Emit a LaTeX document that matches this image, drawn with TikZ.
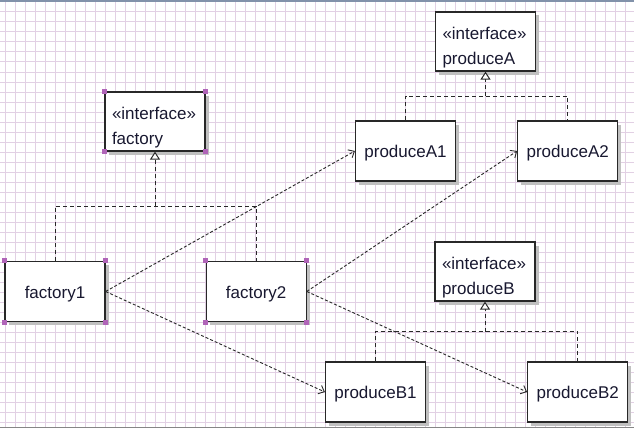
\documentclass[tikz,border=0pt]{standalone}
\usepackage{fontspec}
\setmainfont{Liberation Sans}
\usetikzlibrary{arrows.meta, positioning, calc, shadows}
\definecolor{gridpink}{RGB}{226,208,228}
\definecolor{handle}{RGB}{176,100,184}
\definecolor{shade}{RGB}{192,192,192}
\definecolor{boxline}{RGB}{40,40,40}
\definecolor{txt}{RGB}{24,24,48}
\definecolor{topbar}{RGB}{130,146,170}

\begin{document}
\begin{tikzpicture}[
  x=1pt, y=-1pt,
  cls/.style={rectangle, draw=boxline, line width=1.2pt, fill=white, minimum width=100pt, minimum height=60pt, inner sep=0pt, font=\fontsize{17}{25}\selectfont, text=txt, text height=16pt, text depth=3pt, drop shadow={shadow xshift=3.5pt, shadow yshift=-3.5pt, fill=shade, opacity=1}},
  iface/.style={cls, minimum height=59pt, text width=86pt, align=left, inner xsep=7pt, text height=24pt, text depth=28.6pt},
  realize/.style={draw=boxline, line width=1pt, dash pattern=on 4pt off 3pt},
  depend/.style={draw=boxline, line width=0.9pt, dash pattern=on 3pt off 2pt, -{Straight Barb[length=5pt, width=9pt]}},
  gen/.style={realize, -{Triangle[open, length=8pt, width=10pt, fill=white]}},
  gridline/.style={draw=gridpink, line width=1pt}
]
  \fill[white] (0,0) rectangle (634,428);
  \useasboundingbox (0,0) rectangle (634,428);
  \foreach \x in {5,15,...,634} \draw[gridline] (\x,0) -- (\x,428);
  \foreach \y in {2,12,...,428} \draw[gridline] (0,\y) -- (634,\y);
  \fill[topbar] (0,0) rectangle (634,2);
  \fill[shade!70!black] (0,426.5) rectangle (634,428);

  \node[iface] (factory) at (155,121.5) {«interface»\\factory};
  \node[cls] (factory1) at (55,291.5) {factory1};
  \node[cls, right=100pt of factory1] (factory2) {factory2};

  \node[iface] (produceA) at (485.5,41.5) {«interface»\\produceA};
  \node[cls] (produceA1) at (405.5,151) {produceA1};
  \node[cls, right=61pt of produceA1] (produceA2) {produceA2};

  \node[iface] (produceB) at (485,271.5) {«interface»\\produceB};
  \node[cls] (produceB1) at (375.5,392) {produceB1};
  \node[cls, right=101pt of produceB1] (produceB2) {produceB2};

  \coordinate (fjoin) at ($(factory.south)!0.5!(factory.south |- factory1.north)$);
  \coordinate (ajoin) at ($(produceA.south)!0.5!(produceA.south |- produceA1.north)$);
  \coordinate (bjoin) at ($(produceB.south)!0.5!(produceB.south |- produceB1.north)$);

  \draw[realize] (factory1.north) |- (fjoin) -| (factory2.north);
  \draw[gen] (fjoin) -- (factory.south);
  \draw[realize] (produceA1.north) |- (ajoin) -| (produceA2.north);
  \draw[gen] (ajoin) -- (produceA.south);
  \draw[realize] (produceB1.north) |- (bjoin) -| (produceB2.north);
  \draw[gen] (bjoin) -- (produceB.south);

  \draw[depend] (factory1.east) -- (produceA1.west);
  \draw[depend] (factory1.east) -- (produceB1.west);
  \draw[depend] (factory2.east) -- (produceA2.west);
  \draw[depend] (factory2.east) -- (produceB2.west);

  \foreach \n in {factory,factory1,factory2}
    \foreach \a in {north west,north east,south west,south east}
      \fill[handle] ($(\n.\a)+(-2.5,-2.5)$) rectangle +(5,5);
\end{tikzpicture}
\end{document}
